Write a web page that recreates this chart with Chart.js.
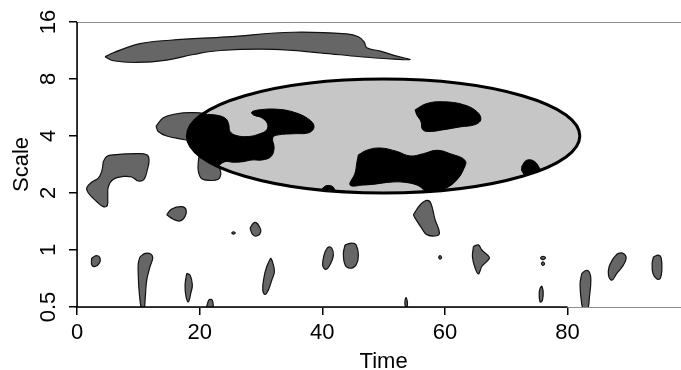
<!DOCTYPE html>
<html>
<head>
<meta charset="utf-8">
<script src="https://cdn.jsdelivr.net/npm/chart.js@4.4.1/dist/chart.umd.min.js"></script>
<style>
  html, body { margin: 0; padding: 0; background: #fff; }
</style>
</head>
<body>
<canvas id="scalogram" width="681" height="370"></canvas>
<script>
// time ticks, and scale ticks placed on a log2 grid (position = log2 of the label)
const timeTicks = [0, 20, 40, 60, 80];
const scaleTickPos = [-1, 0, 1, 2, 3, 4];
const scaleTickLabels = ['0.5', '1', '2', '4', '8', '16'];

// ellipse: centre and half-widths in (time, log2 scale)
const ellipseCentre = [50, 2];
const ellipseHalf = [32, 1];

// contour outlines as [time, log2 scale]
const upperBlobs = [
	[[4.57,3.39],[5.92,3.46],[10.28,3.62],[15.17,3.68],[24.42,3.74],[35.29,3.82],[44.0,3.79],[45.89,3.74],[46.82,3.65],[47.26,3.55],[49.43,3.49],[52.15,3.4],[54.32,3.34],[51.6,3.35],[46.17,3.39],[39.64,3.46],[32.02,3.52],[23.33,3.5],[18.97,3.43],[14.63,3.33],[9.74,3.29],[5.92,3.32]],
	[[12.89,2.17],[14.08,2.32],[16.26,2.39],[18.43,2.41],[20.88,2.39],[23.0,2.29],[22.51,2.02],[19.25,1.92],[16.8,1.95],[14.63,2.0],[13.26,2.08]],
	[[20.07,1.76],[22.51,1.67],[23.33,1.41],[23.44,1.32],[23.05,1.24],[21.7,1.22],[20.34,1.25],[19.79,1.38],[19.79,1.55]],
	[[4.29,1.55],[4.85,1.64],[5.92,1.67],[9.74,1.69],[11.37,1.67],[11.75,1.58],[11.47,1.41],[10.93,1.24],[10.0,1.21],[8.92,1.28],[7.55,1.29],[5.92,1.24],[5.11,1.11],[5.01,0.94],[4.94,0.78],[4.29,0.76],[3.21,0.85],[1.84,1.0],[1.58,1.09],[2.4,1.19],[3.47,1.26],[4.03,1.38]],
	[[14.63,0.62],[15.45,0.72],[17.08,0.76],[17.78,0.71],[17.62,0.59],[16.8,0.51],[15.71,0.54]],
	[[25.2,0.3],[25.5,0.32],[25.8,0.3],[25.5,0.28]],
	[[28.22,0.38],[28.76,0.47],[29.2,0.48],[29.74,0.41],[29.97,0.32],[29.41,0.25],[28.66,0.27]],
	[[54.86,0.62],[55.95,0.79],[57.05,0.87],[57.7,0.82],[58.4,0.53],[59.1,0.31],[58.68,0.25],[57.05,0.27],[56.23,0.38],[55.14,0.56]]
];

const lowerBlobs = [
	[[2.4,-0.14],[3.21,-0.1],[3.75,-0.14],[3.64,-0.23],[2.94,-0.29],[2.4,-0.26]],
	[[10.28,-0.12],[11.09,-0.06],[12.02,-0.07],[12.35,-0.14],[11.91,-0.29],[11.37,-0.53],[11.14,-0.82],[10.93,-1.05],[10.55,-1.05],[10.16,-0.76],[10.0,-0.47],[10.0,-0.23]],
	[[17.9,-0.41],[18.43,-0.44],[18.81,-0.61],[18.55,-0.76],[18.16,-0.91],[17.78,-0.82],[17.62,-0.61]],
	[[21.26,-0.94],[21.58,-0.87],[22.07,-0.88],[22.23,-1.0],[22.23,-1.05],[21.16,-1.05]],
	[[31.6,-0.14],[31.92,-0.22],[32.19,-0.38],[31.76,-0.53],[31.21,-0.7],[30.67,-0.78],[30.29,-0.7],[30.51,-0.47],[30.95,-0.29],[31.37,-0.19]],
	[[40.46,-0.03],[41.0,0.05],[41.55,0.03],[41.81,-0.09],[41.39,-0.23],[40.62,-0.34],[40.08,-0.28],[40.18,-0.14]],
	[[43.72,0.09],[44.81,0.12],[45.51,0.09],[45.89,-0.09],[45.51,-0.26],[44.53,-0.32],[43.72,-0.26],[43.44,-0.06]],
	[[53.67,-0.83],[53.88,-0.91],[53.79,-1.0],[53.51,-0.97],[53.51,-0.88]],
	[[58.95,-0.13],[59.2,-0.1],[59.45,-0.13],[59.2,-0.16]],
	[[64.65,0.06],[65.46,0.09],[66.02,0.0],[67.26,-0.13],[66.84,-0.2],[66.02,-0.29],[65.46,-0.42],[64.93,-0.32],[64.49,-0.12]],
	[[75.55,-0.14],[75.97,-0.11],[76.4,-0.14],[75.97,-0.17]],
	[[75.7,-0.24],[75.97,-0.21],[76.25,-0.24],[75.97,-0.27]],
	[[75.81,-0.63],[76.02,-0.73],[75.91,-0.88],[75.53,-0.91],[75.37,-0.76],[75.53,-0.67]],
	[[82.33,-0.41],[82.99,-0.36],[83.57,-0.39],[83.8,-0.53],[83.57,-0.82],[83.25,-1.05],[82.59,-1.05],[82.17,-0.82],[82.05,-0.58]],
	[[87.49,-0.14],[88.3,-0.06],[89.12,-0.06],[89.56,-0.14],[89.12,-0.26],[88.04,-0.41],[87.23,-0.53],[86.67,-0.44],[86.79,-0.29]],
	[[94.01,-0.12],[94.83,-0.09],[95.27,-0.14],[95.38,-0.35],[95.11,-0.5],[94.57,-0.51],[93.92,-0.41],[93.8,-0.23]]
];

// significant parts inside the ellipse (clipped to it when drawn)
const darkPatches = [
	[[18.43,2.46],[20.6,2.39],[23.05,2.36],[24.31,2.3],[24.75,2.2],[24.96,2.08],[25.94,2.01],[27.94,1.99],[29.85,2.04],[30.95,2.11],[31.04,2.22],[30.13,2.32],[28.76,2.37],[28.5,2.42],[29.85,2.46],[32.58,2.47],[35.29,2.42],[37.73,2.3],[38.66,2.17],[37.9,2.06],[35.29,2.04],[32.84,2.02],[31.92,1.97],[32.14,1.79],[31.65,1.64],[30.18,1.58],[28.55,1.58],[27.08,1.55],[25.45,1.54],[24.14,1.55],[23.0,1.46],[22.35,1.32],[19.25,1.41],[16.8,1.94]],
	[[45.89,1.67],[47.26,1.75],[49.43,1.79],[52.15,1.73],[54.32,1.65],[56.49,1.69],[58.68,1.75],[60.85,1.69],[63.3,1.57],[63.02,1.41],[61.94,1.23],[60.31,1.09],[58.68,1.03],[57.59,0.93],[56.49,1.06],[55.42,1.14],[53.23,1.19],[51.06,1.19],[48.89,1.16],[46.71,1.14],[44.54,1.14],[45.35,1.35],[45.63,1.53]],
	[[39.92,1.07],[40.73,1.13],[41.81,1.1],[42.09,0.95],[39.64,0.95]],
	[[55.14,2.46],[57.05,2.57],[59.76,2.6],[63.02,2.55],[65.2,2.43],[65.86,2.29],[64.93,2.2],[62.48,2.16],[59.76,2.11],[57.59,2.08],[56.39,2.11],[56.07,2.26],[55.41,2.37]],
	[[72.54,1.47],[73.25,1.57],[74.34,1.57],[75.25,1.47],[75.69,1.3],[73.36,1.3],[72.54,1.39]]
];

const FONT = '"Liberation Sans", Arial, Helvetica, sans-serif';

// closed outline for a 'shape' fill
function outline(pts) {
	const d = pts.map((p) => ({ x: p[0], y: p[1] }));
	d.push({ x: pts[0][0], y: pts[0][1] });
	return d;
}

const datasets = [];
// dark patches first in the list so they are drawn last (on top)
darkPatches.forEach((p) => {
	datasets.push({ data: outline(p), backgroundColor: '#000', borderColor: '#000', borderWidth: 1 });
});
upperBlobs.concat(lowerBlobs).forEach((p) => {
	datasets.push({ data: outline(p), backgroundColor: '#666666', borderColor: '#111', borderWidth: 1.2 });
});
datasets.forEach((d) => {
	d.showLine = true;
	d.fill = 'shape';
	d.pointRadius = 0;
	d.tension = 0.4;
});

function ellipsePath(chart) {
	const xs = chart.scales.x, ys = chart.scales.y;
	const cx = xs.getPixelForValue(ellipseCentre[0]);
	const cy = ys.getPixelForValue(ellipseCentre[1]);
	const rx = xs.getPixelForValue(ellipseCentre[0] + ellipseHalf[0]) - cx;
	const ry = cy - ys.getPixelForValue(ellipseCentre[1] + ellipseHalf[1]);
	chart.ctx.beginPath();
	chart.ctx.ellipse(cx, cy, rx, ry, 0, 0, Math.PI * 2);
}

let clipped = false;

const ellipseLayer = {
	id: 'ellipseLayer',
	beforeDatasetsDraw() {
		clipped = false;
	},
	afterDatasetDraw(chart, args) {
		// after the last grey blob: lay the ellipse down, then clip the dark patches to it
		if (args.index !== darkPatches.length) return;
		const ctx = chart.ctx;
		ellipsePath(chart);
		ctx.fillStyle = '#c6c6c6';
		ctx.fill();
		ctx.save();
		ellipsePath(chart);
		ctx.clip();
		clipped = true;
	},
	afterDatasetsDraw(chart) {
		const ctx = chart.ctx;
		if (clipped) ctx.restore();
		ellipsePath(chart);
		ctx.lineWidth = 3;
		ctx.strokeStyle = '#000';
		ctx.stroke();

		const { left, right, top, bottom } = chart.chartArea;
		const xs = chart.scales.x, ys = chart.scales.y;

		// plot frame
		ctx.lineWidth = 1;
		ctx.strokeStyle = '#8c8c8c';
		ctx.strokeRect(left + 0.5, top + 0.5, right - left + 10, bottom - top);

		// axis lines running from first to last tick
		ctx.lineWidth = 1.5;
		ctx.strokeStyle = '#000';
		ctx.beginPath();
		ctx.moveTo(xs.getPixelForValue(timeTicks[0]), bottom);
		ctx.lineTo(xs.getPixelForValue(timeTicks[timeTicks.length - 1]), bottom);
		ctx.moveTo(left, ys.getPixelForValue(scaleTickPos[0]));
		ctx.lineTo(left, ys.getPixelForValue(scaleTickPos[scaleTickPos.length - 1]));
		ctx.stroke();

		// rotated scale labels
		ctx.fillStyle = '#000';
		ctx.font = '22px ' + FONT;
		ctx.textAlign = 'center';
		ctx.textBaseline = 'alphabetic';
		scaleTickPos.forEach((v, i) => {
			ctx.save();
			ctx.translate(left - 22, ys.getPixelForValue(v));
			ctx.rotate(-Math.PI / 2);
			ctx.fillText(scaleTickLabels[i], 0, 0);
			ctx.restore();
		});

		// axis titles
		ctx.fillText('Time', xs.getPixelForValue(50), 368);
		ctx.save();
		ctx.translate(28, (top + bottom) / 2);
		ctx.rotate(-Math.PI / 2);
		ctx.fillText('Scale', 0, 0);
		ctx.restore();
	}
};

const gridTicks = {
	drawOnChartArea: false,
	drawTicks: true,
	tickLength: 8,
	tickColor: '#000',
	lineWidth: 1.5
};

new Chart(document.getElementById('scalogram'), {
	type: 'scatter',
	data: { datasets: datasets },
	options: {
		responsive: false,
		devicePixelRatio: 1,
		animation: false,
		events: [],
		layout: { padding: { top: 22, right: 0, bottom: 0, left: 0 } },
		plugins: {
			legend: { display: false },
			tooltip: { enabled: false }
		},
		scales: {
			x: {
				type: 'linear',
				min: 0,
				max: 98.5,
				afterBuildTicks: (s) => { s.ticks = timeTicks.map((v) => ({ value: v })); },
				afterFit: (s) => { s.height = 63; },
				border: { display: false },
				grid: gridTicks,
				ticks: { color: '#000', font: { family: FONT, size: 22 }, padding: 5, maxRotation: 0, autoSkip: false }
			},
			y: {
				type: 'linear',
				min: -1,
				max: 4,
				afterBuildTicks: (s) => { s.ticks = scaleTickPos.map((v) => ({ value: v })); },
				afterFit: (s) => { s.width = 77; },
				border: { display: false },
				grid: gridTicks,
				ticks: { display: false }
			}
		}
	},
	plugins: [ellipseLayer]
});
</script>
</body>
</html>
